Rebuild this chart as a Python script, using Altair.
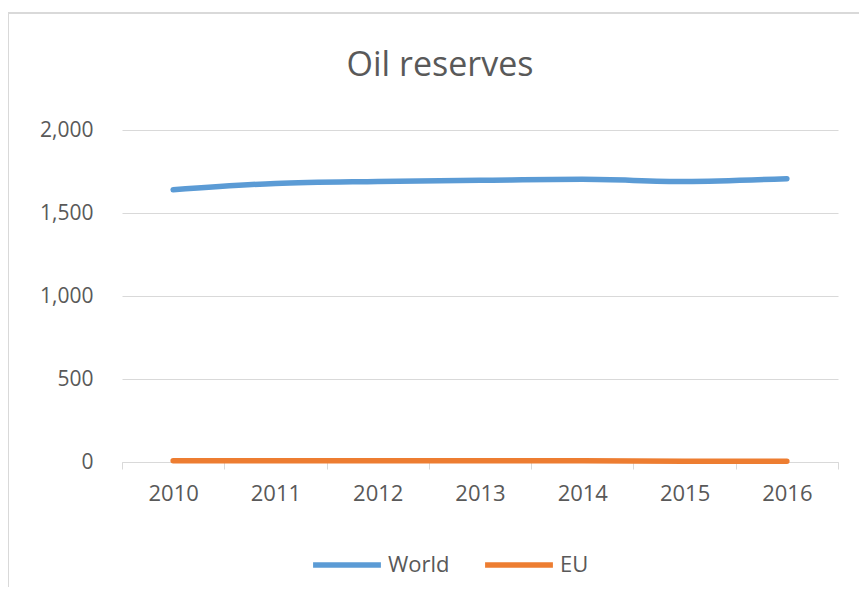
import altair as alt
import pandas as pd

years = ["2010", "2011", "2012", "2013", "2014", "2015", "2016"]
world = [1640, 1678, 1690, 1697, 1703, 1690, 1707]
eu = [8, 8, 8, 7, 7, 5, 5]
series_names = ["World", "EU"]
colors = ["#5B9BD5", "#ED7D31"]
title_text = ["Oil reserves"]

rows = []
for y, w, e in zip(years, world, eu):
    rows.append({"year": y, "series": "World", "value": w})
    rows.append({"year": y, "series": "EU", "value": e})
df = pd.DataFrame(rows)

FONT = "Open Sans"
GREY = "#595959"
LIGHT = "#d9d9d9"

lines = alt.Chart(df).mark_line(strokeWidth=5.5, strokeCap="round", interpolate="monotone").encode(
    x=alt.X("year:O", scale=alt.Scale(type="band", paddingInner=0, paddingOuter=0), bandPosition=0.5,
            axis=alt.Axis(title=None, labelAngle=0, tickBand="extent", domainColor=LIGHT, tickColor=LIGHT,
                          tickSize=7, labelPadding=14, labelFontSize=22, labelColor=GREY, labelFont=FONT,
                          grid=False)),
    y=alt.Y("value:Q", scale=alt.Scale(domain=[0, 2000], nice=False),
            axis=alt.Axis(title=None, values=[0, 500, 1000, 1500, 2000], format=",.0f", domain=False, ticks=False,
                          gridColor=LIGHT, labelPadding=29, labelFontSize=21, labelColor=GREY, labelFont=FONT)),
    color=alt.Color("series:N", scale=alt.Scale(domain=series_names, range=colors),
                    legend=alt.Legend(title=None, orient="none", legendX=188, legendY=398, direction="horizontal",
                                      symbolType="stroke", symbolSize=4600, symbolStrokeWidth=5.5,
                                      labelFontSize=22, labelColor=GREY, labelFont=FONT, labelOffset=4,
                                      columnPadding=24)),
)

border = alt.Chart(pd.DataFrame({"a": [0]})).mark_rect(fill=None, stroke=LIGHT, strokeWidth=2).encode(
    x=alt.value(-114), x2=alt.value(760), y=alt.value(-117), y2=alt.value(480)
)

title = alt.Chart(pd.DataFrame({"t": title_text})).mark_text(
    fontSize=34, font=FONT, color=GREY, baseline="middle", align="center"
).encode(text="t:N", x=alt.value(318), y=alt.value(-64))

chart = alt.layer(border, lines, title).properties(
    width=716, height=332,
    autosize=alt.AutoSizeParams(type="none"),
    padding={"left": 114, "top": 122, "right": 21, "bottom": 125},
).configure_view(stroke=None)

chart.save("out.html", embed_options={"renderer": "svg", "actions": False})
